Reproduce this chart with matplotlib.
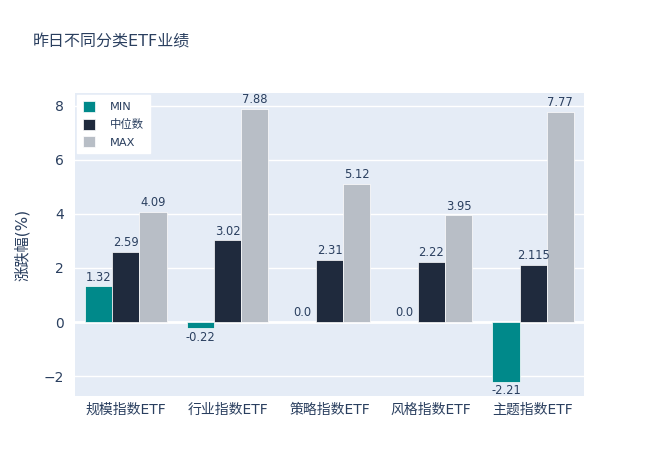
import matplotlib
matplotlib.use("Agg")
import matplotlib.pyplot as plt
import numpy as np

plt.rcParams['font.family'] = ['DejaVu Sans', 'Noto Sans CJK SC']

categories = ["规模指数ETF", "行业指数ETF", "策略指数ETF", "风格指数ETF", "主题指数ETF"]
min_vals = [1.32, -0.22, 0.0, 0.0, -2.21]
med_vals = [2.59, 3.02, 2.31, 2.22, 2.115]
max_vals = [4.09, 7.88, 5.12, 3.95, 7.77]
series_names = ["MIN", "中位数", "MAX"]
colors = ["#00898a", "#1f2a3d", "#b8bec6"]

fig = plt.figure(figsize=(6.6, 4.72), dpi=100)
# plot area in pixels: left 75, right 584, top 93, bottom 396
ax = fig.add_axes([75 / 660, 1 - 396 / 472, (584 - 75) / 660, (396 - 93) / 472])
ax.set_facecolor("#e5ecf6")

x = np.arange(len(categories))
w = 0.8 / 3
text_col = "#2a3f5f"
for i, (name, vals, c) in enumerate(zip(series_names, [min_vals, med_vals, max_vals], colors)):
    pos = x + (i - 1) * w
    ax.bar(pos, vals, width=w, color=c, label=name, zorder=3, edgecolor="white", linewidth=0.5)
    for p, v in zip(pos, vals):
        if v < 0:
            ax.annotate(str(v), (p, v), xytext=(0, -2), textcoords="offset points",
                        ha="center", va="top", fontsize=8.3, color=text_col, zorder=4)
        else:
            ax.annotate(str(v), (p, v), xytext=(0, 2), textcoords="offset points",
                        ha="center", va="bottom", fontsize=8.3, color=text_col, zorder=4)

ax.set_xlim(-0.5, len(categories) - 0.5)
ax.set_ylim(-2.74, 8.48)
ax.set_yticks([-2, 0, 2, 4, 6, 8])
ax.set_xticks(x)
ax.set_xticklabels(categories)
ax.grid(axis="y", color="white", linewidth=1, zorder=0)
ax.axhline(0, color="white", linewidth=2, zorder=2)
for s in ax.spines.values():
    s.set_visible(False)
ax.tick_params(axis="both", length=0, labelsize=10, labelcolor="#2a3f5f")
ax.tick_params(axis="x", pad=5)
ax.tick_params(axis="y", pad=8)
ax.set_ylabel("涨跌幅(%)", fontsize=11, color="#2a3f5f", labelpad=10)

leg = ax.legend(loc="upper left", bbox_to_anchor=(0.0, 1.0), frameon=True, fancybox=False,
                fontsize=8.2, handlelength=1.1, handleheight=1.1, borderpad=0.5,
                labelspacing=0.55, handletextpad=1.3, borderaxespad=0.2)
leg.get_frame().set_facecolor("white")
leg.get_frame().set_edgecolor("white")
leg.get_frame().set_alpha(1)
for t in leg.get_texts():
    t.set_color("#2a3f5f")

fig.text(33 / 660, 1 - 42 / 472, "昨日不同分类ETF业绩", fontsize=11.5, color="#2a3f5f",
         ha="left", va="center")

fig.savefig("out.png", dpi=100)
